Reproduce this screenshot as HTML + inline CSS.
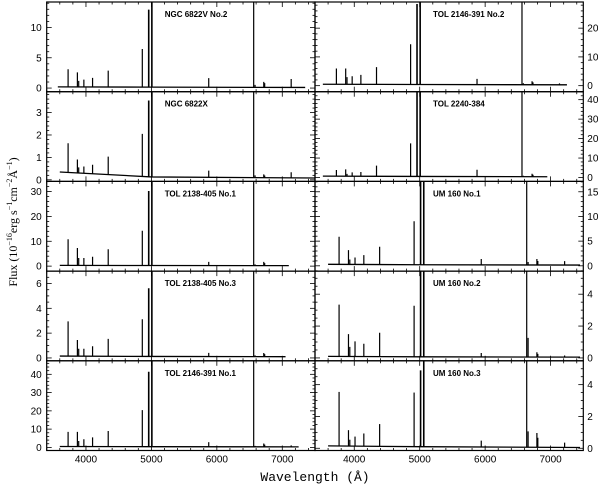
<!DOCTYPE html>
<html><head><meta charset="utf-8"><style>
body{margin:0;background:#fff;}
svg{display:block;font-family:"Liberation Sans",sans-serif;}
</style></head><body>
<svg id="chart" width="600" height="486" viewBox="0 0 600 486"></svg>
<script>
const panelNames = ["NGC 6822V No.2","NGC 6822X","TOL 2138-405 No.1","TOL 2138-405 No.3","TOL 2146-391 No.1","TOL 2146-391 No.2","TOL 2240-384","UM 160 No.1","UM 160 No.2","UM 160 No.3"];
const restLines = [3727,3869,3889,3968,4101,4340,4861,4959,5007,5876,6563,6584,6717,6731,7136];
const peaksP1 = [2.9,2.4,1.0,1.2,1.5,2.7,6.3,12.8,40,1.5,25,0.4,0.9,0.7,1.4];
const peaksP2 = [1.3,0.6,0.25,0.3,0.4,0.8,1.9,3.4,10,0.3,6,0.1,0.15,0.1,0.25];
const peaksP3 = [10.5,7,3,3,3.5,6.5,14,30,90,1.5,40,0.5,1.5,1,0.8];
const peaksP4 = [2.8,1.3,0.6,0.6,0.8,1.4,3,5.5,17,0.3,9,0.1,0.3,0.2,0.15];
const peaksP5 = [8,8,3,4,5,8.5,20,41,120,2.5,60,0.5,1.8,1.2,0.8];
const peaksP6 = [5.5,5.5,2.5,2.8,3.3,6,14,28,80,2,50,0.5,1.2,0.8,0.5];
const peaksP7 = [3.2,3.5,1.2,2,2.2,5.5,17,45,130,3.5,60,0.5,1.5,1,0.5];
const peaksP8 = [5.6,2.9,1.0,1.4,1.9,3.6,8.8,30,90,1.2,35,0.6,1.2,0.8,0.8];
const peaksP9 = [3.25,1.4,0.6,0.95,0.8,1.5,3.2,9,27,0.25,10,1.2,0.3,0.2,0.1];
const peaksP10 = [3.4,1.0,0.4,0.6,0.8,1.4,3.4,4.8,15,0.4,10,1.0,0.9,0.6,0.3];
const allPeaks = [peaksP1,peaksP2,peaksP3,peaksP4,peaksP5,peaksP6,peaksP7,peaksP8,peaksP9,peaksP10];
const redshifts = [0,0,0,0,0,0,0,0.011,0.011,0.011];
const contBlue = [0.2,0.35,0.3,0.15,0.5,0.5,0.7,0.3,0.1,0.15];
const contMid = [0.15,0.13,0.25,0.12,0.4,0.4,0.55,0.22,0.07,0.1];
const contRed = [0.1,0.08,0.2,0.1,0.3,0.3,0.4,0.15,0.05,0.05];
const waveStart = [3570,3600,3600,3600,3600,3520,3520,3600,3600,3600];
const waveEnd = [7350,7500,7100,7050,7250,7250,6950,7450,7450,7450];
const yMin = [-0.6,-0.07,-2,-0.23,-1.7,-2.1,-2,-1.07,-0.18,-0.14];
const yMax = [14.2,3.93,34.1,7.0,47.4,29.1,44.1,17.1,5.45,5.5];
const yMajor = [5,1,10,2,10,10,10,5,2,2];
const yMinor = [1,0.2,2,0.5,2,2,2,1,0.5,0.5];
const xTickLabels = [4000,5000,6000,7000];
const xMin = 3400, xMax = 7500;

const svg = document.getElementById('chart');
const NS = 'http://www.w3.org/2000/svg';
function mk(tag, attrs, parent){const e=document.createElementNS(NS,tag);for(const k in attrs)e.setAttribute(k,attrs[k]);(parent||svg).appendChild(e);return e;}
const rowTops = [2,91.7,181.4,271.1,360.8];
const rowH = 89.7;
const colLeft = [46.7,315], colW = 268.3;
const MIDW = 5000;

for(let p=0;p<10;p++){
  const col = p<5?0:1, row = p%5;
  const L = colLeft[col], T = rowTops[row], W = colW, H = rowH;
  const X = w => L + (w - xMin)/(xMax - xMin)*W;
  const Y = v => T + H - (v - yMin[p])/(yMax[p]-yMin[p])*H;
  const g = mk('g',{});
  
  
  const cp = mk('clipPath',{id:'cp'+p},g);
  mk('rect',{x:L,y:T,width:W,height:H},cp);
  const sg = mk('g',{'clip-path':'url(#cp'+p+')'},g);
  const z = redshifts[p];
  const cont = w => w<MIDW
    ? contBlue[p] + (contMid[p]-contBlue[p])*(w-waveStart[p])/(MIDW-waveStart[p])
    : contMid[p] + (contRed[p]-contMid[p])*(w-MIDW)/(waveEnd[p]-MIDW);
  const c = mk('path',{d:'M'+X(waveStart[p])+','+Y(contBlue[p])+' L'+X(MIDW)+','+Y(contMid[p])+' L'+X(waveEnd[p])+','+Y(contRed[p]),stroke:'#000','stroke-width':1.3,fill:'none'},sg);
  
  
  restLines.forEach((rw,i)=>{
    const w = rw*(1+z);
    if(w<waveStart[p]||w>waveEnd[p]) return;
    const base = cont(w);
    const pk = base + allPeaks[p][i];
    const ln = mk('path',{d:'M'+X(w)+','+Y(base)+' L'+X(w)+','+Y(pk),stroke:'#000','stroke-width':(rw===4959||rw===5007)?1.6:1.2,fill:'none'},sg);
    
    
  });
  mk('rect',{x:L,y:T,width:W,height:H,fill:'none',stroke:'#000','stroke-width':1.2},g);
  for(let w=3400; w<=xMax; w+=200){
    const x = X(w), big = w%1000===0, len = big?5:2.5;
    mk('line',{x1:x,x2:x,y1:T,y2:T+len,stroke:'#000','stroke-width':0.8},g);
    mk('line',{x1:x,x2:x,y1:T+H,y2:T+H-len,stroke:'#000','stroke-width':0.8},g);
  }
  const start = Math.ceil(yMin[p]/yMinor[p])*yMinor[p];
  for(let v=start; v<=yMax[p]+1e-9; v+=yMinor[p]){
    const y = Y(v), big = Math.abs(v/yMajor[p]-Math.round(v/yMajor[p]))<1e-6, len = big?5:2.5;
    mk('line',{x1:L,x2:L+len,y1:y,y2:y,stroke:'#000','stroke-width':0.8},g);
    mk('line',{x1:L+W,x2:L+W-len,y1:y,y2:y,stroke:'#000','stroke-width':0.8},g);
    if(big){
      const t = mk('text',{x: col===0?L-5:L+W+4, y:y+3.5,'font-size':10,'text-anchor':col===0?'end':'start'},g);
      
      
      t.textContent = String(Math.round(v*10)/10);
    }
  }
  const tt = mk('text',{x:L+118,y:T+15,'font-size':8,'font-weight':'bold'},g);
  
  
  tt.textContent = panelNames[p];
  if(row===4){
    xTickLabels.forEach(w=>{
      const t = mk('text',{x:X(w),y:T+H+12,'font-size':10,'text-anchor':'middle'},g);
      
      
      t.textContent = w;
    });
  }
}
const xl = mk('text',{x:315,y:481,'font-size':13,'text-anchor':'middle','font-family':'Liberation Mono, monospace'});


xl.textContent = 'Wavelength (Å)';
const yl = mk('text',{x:0,y:0,'font-size':12,'text-anchor':'middle','font-family':'Liberation Serif, serif',transform:'translate(17,222) rotate(-90)'});


yl.innerHTML = 'Flux (10<tspan dy="-5" font-size="8">−16</tspan><tspan dy="5">erg s</tspan><tspan dy="-5" font-size="8">−1</tspan><tspan dy="5">cm</tspan><tspan dy="-5" font-size="8">−2</tspan><tspan dy="5">Å</tspan><tspan dy="-5" font-size="8">−1</tspan><tspan dy="5">)</tspan>';
</script>
</body></html>
